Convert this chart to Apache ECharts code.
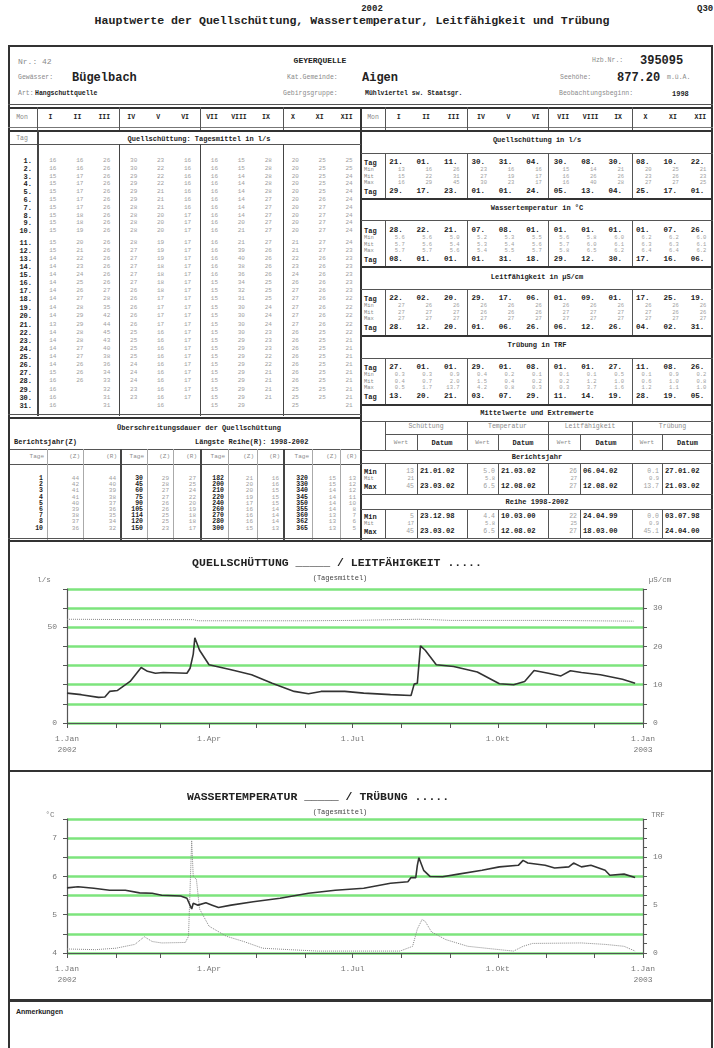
<!DOCTYPE html>
<html><head><meta charset="utf-8">
<script src="https://cdn.jsdelivr.net/npm/echarts@6/dist/echarts.min.js"></script>
<style>
body{margin:0;background:#fff;width:714px;height:1048px;overflow:hidden;position:relative;font-family:"Liberation Mono","DejaVu Sans Mono",monospace;color:#222}
.t{position:absolute;white-space:nowrap;line-height:1}
.ln{position:absolute}
</style></head><body>
<div id="page"></div>
<div id="chart" style="position:absolute;left:0;top:540px;width:714px;height:460px"></div>
<script>
// ---------------- DATA ----------------
const monthsRoman = ["I","II","III","IV","V","VI","VII","VIII","IX","X","XI","XII"];
// Quellschüttung daily means (l/s), table text
const dailyQJan = "16 16 15 15 15 15 15 15 15 15 15 15 14 14 14 14 14 14 14 14 13 14 14 14 14 14 15 16 16 16 16";
const dailyQFeb = "16 16 17 17 17 17 17 18 18 19 20 21 22 23 24 25 26 27 28 29 29 28 28 27 27 26 26 26";
const dailyQMar = "26 26 26 26 26 26 26 26 26 26 26 26 26 26 26 26 27 28 35 42 44 45 43 40 38 36 34 33 32 31 31";
const dailyQApr = "30 30 29 29 29 29 28 28 28 28 28 27 27 27 27 27 26 26 26 26 26 25 25 25 25 24 24 24 23 23";
const dailyQMay = "23 22 22 22 21 21 21 20 20 20 19 19 19 18 18 18 18 17 17 17 17 16 16 16 16 16 16 16 16 16 16";
const dailyQJun = "16 16 16 16 16 16 16 17 17 17 17 17 17 17 17 17 17 17 17 17 17 17 17 17 17 17 17 17 17 17";
const dailyQJul = "16 16 16 16 16 16 16 16 16 16 16 16 16 16 16 15 15 15 15 15 15 15 15 15 15 15 15 15 15 15 15";
const dailyQAug = "15 15 14 14 14 14 14 14 20 21 21 39 40 38 36 34 32 31 30 30 30 30 29 29 29 29 29 29 29 29 29";
const dailyQSep = "28 28 28 28 28 27 27 27 27 27 27 26 26 26 26 25 25 25 24 24 24 23 23 23 22 22 21 21 21 21";
const dailyQOct = "20 20 20 20 20 20 20 20 20 20 21 21 22 23 24 26 27 27 27 27 27 26 26 26 26 26 26 26 25 25 25";
const dailyQNov = "25 25 25 25 25 26 27 27 27 27 27 27 26 26 26 26 26 26 26 26 26 25 25 25 25 25 25 25 25 25";
const dailyQDec = "25 25 24 24 24 24 24 24 24 24 24 23 23 23 23 23 23 22 22 22 22 22 21 21 21 21 21 21 21 21 21";
const dailyQ = [dailyQJan,dailyQFeb,dailyQMar,dailyQApr,dailyQMay,dailyQJun,dailyQJul,dailyQAug,dailyQSep,dailyQOct,dailyQNov,dailyQDec];

const qMinDay = ["21.","01.","11.","30.","31.","04.","30.","08.","30.","08.","10.","22."];
const qMin = ["13","16","26","23","16","16","15","14","21","20","25","21"];
const qMit = ["15","22","31","27","19","17","16","26","26","23","26","23"];
const qMax = ["16","29","45","30","23","17","16","40","28","27","27","25"];
const qMaxDay = ["29.","17.","23.","01.","01.","24.","05.","13.","04.","25.","17.","01."];
const tMinDay = ["28.","22.","21.","07.","08.","01.","01.","01.","01.","01.","07.","26."];
const tMin = ["5.6","5.6","5.0","5.2","5.3","5.5","5.6","5.8","6.0","6.2","6.2","6.0"];
const tMit = ["5.7","5.6","5.4","5.3","5.4","5.6","5.7","6.0","6.1","6.3","6.3","6.1"];
const tMax = ["5.7","5.7","5.6","5.4","5.5","5.7","5.8","6.5","6.2","6.4","6.4","6.2"];
const tMaxDay = ["08.","01.","01.","01.","31.","18.","29.","12.","30.","17.","16.","06."];
const lMinDay = ["22.","02.","20.","29.","17.","06.","01.","09.","01.","17.","25.","19."];
const lMin = ["27","26","26","26","26","26","26","26","26","26","26","26"];
const lMit = ["27","27","27","26","26","26","27","27","27","27","26","26"];
const lMax = ["27","27","27","27","27","27","27","27","27","27","27","27"];
const lMaxDay = ["28.","12.","20.","01.","06.","26.","06.","12.","26.","04.","02.","31."];
const trMinDay = ["27.","01.","01.","29.","01.","08.","01.","01.","27.","11.","08.","26."];
const trMin = ["0.3","0.3","0.9","0.4","0.2","0.1","0.1","0.1","0.5","0.1","0.9","0.2"];
const trMit = ["0.4","0.7","2.0","1.5","0.4","0.2","0.2","1.2","1.0","0.6","1.0","0.8"];
const trMax = ["0.5","1.7","13.7","4.2","0.8","0.3","0.3","3.7","1.6","1.2","1.1","1.0"];
const trMaxDay = ["13.","20.","21.","03.","07.","29.","11.","14.","19.","28.","19.","05."];

const ueTage = [[1,2,3,4,5,6,7,8,10],[30,45,60,75,90,105,114,120,150],[182,200,210,220,240,260,270,280,300],[320,330,340,345,350,355,360,362,365]];
const ueZ = [[44,42,41,41,40,39,38,37,36],[29,28,27,27,26,26,25,25,23],[21,20,20,19,17,16,16,16,15],[15,15,14,14,14,14,13,13,13]];
const ueR = [[44,40,39,38,37,36,35,34,32],[27,25,24,22,20,19,18,18,17],[16,16,15,15,15,14,14,14,13],[13,12,12,11,10,8,7,6,5]];

const extremeGroups = ["Schüttung","Temperatur","Leitfähigkeit","Trübung"];
const berichtWert = [["13","21","45"],["5.0","5.8","6.5"],["26","27","27"],["0.1","0.9","13.7"]];
const berichtDatum = [["21.01.02","","23.03.02"],["21.03.02","","12.08.02"],["06.04.02","","12.08.02"],["27.01.02","","21.03.02"]];
const reiheWert = [["5","17","45"],["4.4","5.8","6.5"],["22","25","27"],["0.0","0.9","45.1"]];
const reiheDatum = [["23.12.98","","23.03.02"],["10.03.00","","12.08.02"],["24.04.99","","18.03.00"],["03.07.98","","24.04.00"]];

// chart series: [date, value]
const dischargeData = [["2002-01-01",15.6],["2002-01-10",14.8],["2002-01-21",13.4],["2002-01-25",13.6],["2002-01-28",16.5],["2002-02-02",17.0],["2002-02-10",21.7],["2002-02-17",29.0],["2002-02-21",27.0],["2002-02-26",26.0],["2002-03-03",26.4],["2002-03-18",26.0],["2002-03-20",28.6],["2002-03-22",36.0],["2002-03-23",44.5],["2002-03-26",38.0],["2002-04-01",30.4],["2002-04-15",27.8],["2002-04-28",25.2],["2002-05-11",20.8],["2002-05-25",16.5],["2002-06-03",15.3],["2002-06-11",16.5],["2002-06-26",16.5],["2002-07-08",15.6],["2002-07-25",14.8],["2002-08-07",14.4],["2002-08-09",20.3],["2002-08-11",20.8],["2002-08-13",40.3],["2002-08-16",38.0],["2002-08-23",30.4],["2002-09-03",29.5],["2002-09-18",26.6],["2002-10-02",20.5],["2002-10-11",20.0],["2002-10-18",21.7],["2002-10-24",27.4],["2002-11-02",26.0],["2002-11-10",24.6],["2002-11-16",27.3],["2002-11-23",26.4],["2002-12-05",25.2],["2002-12-19",22.9],["2002-12-27",20.8]];
const conductivityData = [["2002-01-01",27.1],["2002-02-15",27.0],["2002-03-22",27.0],["2002-03-25",26.7],["2002-06-01",26.7],["2002-07-01",26.8],["2002-08-12",27.1],["2002-08-20",27.0],["2002-09-01",26.8],["2002-11-01",26.8],["2002-12-26",26.6]];
const temperatureData = [["2002-01-01",5.70],["2002-01-08",5.73],["2002-01-18",5.69],["2002-01-28",5.64],["2002-02-07",5.64],["2002-02-16",5.57],["2002-02-24",5.56],["2002-03-02",5.51],["2002-03-14",5.49],["2002-03-18",5.43],["2002-03-21",5.15],["2002-03-22",5.30],["2002-03-25",5.25],["2002-03-30",5.31],["2002-04-03",5.25],["2002-04-07",5.19],["2002-04-15",5.25],["2002-04-29",5.34],["2002-05-16",5.43],["2002-06-03",5.56],["2002-06-20",5.64],["2002-07-08",5.69],["2002-07-25",5.82],["2002-08-05",5.86],["2002-08-07",5.97],["2002-08-10",5.97],["2002-08-11",6.29],["2002-08-12",6.49],["2002-08-15",6.16],["2002-08-19",6.00],["2002-08-27",5.99],["2002-09-06",6.06],["2002-09-21",6.16],["2002-10-02",6.25],["2002-10-14",6.29],["2002-10-17",6.42],["2002-10-20",6.35],["2002-10-31",6.29],["2002-11-06",6.22],["2002-11-15",6.25],["2002-11-18",6.35],["2002-11-23",6.25],["2002-11-29",6.29],["2002-12-08",6.16],["2002-12-11",6.03],["2002-12-20",6.06],["2002-12-27",5.97]];
const turbidityData = [["2002-01-01",0.42],["2002-01-19",0.35],["2002-02-01",0.5],["2002-02-13",0.9],["2002-02-19",1.7],["2002-02-24",1.2],["2002-03-02",1.05],["2002-03-17",1.1],["2002-03-19",1.75],["2002-03-21",11.75],["2002-03-22",8.0],["2002-03-24",7.7],["2002-03-26",4.6],["2002-04-01",2.8],["2002-04-12",1.75],["2002-04-23",1.2],["2002-05-05",0.5],["2002-05-22",0.35],["2002-06-09",0.2],["2002-07-31",0.2],["2002-08-08",0.7],["2002-08-11",2.5],["2002-08-14",3.5],["2002-08-16",3.3],["2002-08-20",2.2],["2002-08-29",1.4],["2002-09-12",0.7],["2002-10-02",0.35],["2002-10-11",0.2],["2002-10-17",0.7],["2002-10-23",1.0],["2002-11-23",1.05],["2002-12-08",0.9],["2002-12-20",0.7],["2002-12-27",0.2]];

const monthTickDates = ["2002-01-01","2002-02-01","2002-03-01","2002-04-01","2002-05-01","2002-06-01","2002-07-01","2002-08-01","2002-09-01","2002-10-01","2002-11-01","2002-12-01","2003-01-01"];
const labelTickDates = ["2002-01-01","2002-04-01","2002-07-01","2002-10-01","2003-01-01"];
const labelTickTexts = ["1.Jan\n2002","1.Apr","1.Jul","1.Okt","1.Jan\n2003"];

// ---------------- PAGE (table) ----------------
const page = document.getElementById('page');
function T(x,y,s,o){o=o||{};const d=document.createElement('div');d.className='t';d.textContent=s;
  d.style.left=x+'px';d.style.top=y+'px';d.style.fontSize=(o.size||7)+'px';
  d.style.fontWeight=o.bold?'bold':'normal';d.style.color=o.color||(o.bold?'#222':'#8a8a8a');
  if(o.font)d.style.fontFamily=o.font;
  const tx=o.align==='c'?'-50%':(o.align==='r'?'-100%':'0');d.style.transform='translate('+tx+',-50%)';
  page.appendChild(d);}
function H(x1,x2,y,t,c){const d=document.createElement('div');d.className='ln';d.style.left=x1+'px';d.style.top=y+'px';d.style.width=(x2-x1)+'px';d.style.height=(t||1)+'px';d.style.background=c||'#555';page.appendChild(d);}
function V(x,y1,y2,t,c){const d=document.createElement('div');d.className='ln';d.style.left=x+'px';d.style.top=y1+'px';d.style.height=(y2-y1)+'px';d.style.width=(t||1)+'px';d.style.background=c||'#555';page.appendChild(d);}

// header
T(372,9,"2002",{bold:true,size:9,align:'c'});
T(352,21,"Hauptwerte der Quellschüttung, Wassertemperatur, Leitfähigkeit und Trübung",{bold:true,size:11.6,align:'c'});
T(697,9,"Q30",{bold:true,size:9});
// outer frame
H(8,713,45,2,'#333');V(8,45,1048,2,'#333');V(711,45,1048,2,'#333');
// info block
T(18,62,"Nr.: 42",{size:8});
T(320,61,"GEYERQUELLE",{bold:true,size:8,align:'c'});
T(592,61,"Hzb.Nr.:",{size:6.5});T(640,61,"395095",{bold:true,size:12});
T(18,78,"Gewässer:",{size:6.5});T(72,78,"Bügelbach",{bold:true,size:12});
T(287,78,"Kat.Gemeinde:",{size:6.5});T(362,78,"Aigen",{bold:true,size:12});
T(560,78,"Seehöhe:",{size:6.5});T(617,78,"877.20",{bold:true,size:12});T(667,78,"m.ü.A.",{size:6.5});
T(18,94,"Art:",{size:6.5});T(35,94,"Hangschuttquelle",{bold:true,size:6.5});
T(283,94,"Gebirgsgruppe:",{size:6.5});T(365,94,"Mühlviertel sw. Staatsgr.",{bold:true,size:6.5});
T(559,94,"Beobachtungsbeginn:",{size:6.5});T(672,94,"1998",{bold:true,size:7});
H(8,713,104,1,'#555');H(8,713,107,2,'#333');

// month header rows
const LX0=37, LW=26.93, RX0=385, RW=27.42;
const lc=m=>LX0+(m+0.5)*LW, rc=m=>RX0+(m+0.5)*RW;
T(22,118,"Mon",{size:6.5,align:'c'});T(373,118,"Mon",{size:6.5,align:'c'});
monthsRoman.forEach((r,m)=>{T(lc(m),118,r,{bold:true,size:6.5,align:'c'});T(rc(m),118,r,{bold:true,size:6.5,align:'c'});});
H(8,713,127,1,'#777');H(8,713,130,2,'#333');
V(37,107,130);[119,200,283].forEach(x=>V(x,107,130));
V(385,107,130);[467,548,632].forEach(x=>V(x,107,130));
V(360,107,540,2,'#333');

// left daily table
T(22,139,"Tag",{size:6.5,align:'c'});
T(199,139,"Quellschüttung: Tagesmittel in l/s",{bold:true,size:7,align:'c'});
H(10,361,144,1);
V(37,130,416,2,'#444');[119,200,283].forEach(x=>V(x,144,416,1,'#444'));
const rowY=d=>d<10?161+d*7.8:(d<20?243+(d-10)*8.07:325+(d-20)*8.07);
for(let d=0;d<31;d++)T(32,rowY(d),(d+1)+".",{bold:true,size:7,align:'r'});
dailyQ.forEach((s,m)=>{s.split(' ').forEach((v,d)=>T(lc(m)+6,rowY(d),v,{size:6,align:'r',color:'#a0a0a0'}));});
H(8,361,414,1,'#555');H(8,361,417,2,'#333');

// Überschreitungsdauer
T(199,428,"Überschreitungsdauer der Quellschüttung",{bold:true,size:7,align:'c'});
T(14,442,"Berichtsjahr(Z)",{bold:true,size:7});
T(195,442,"Längste Reihe(R): 1998-2002",{bold:true,size:7});
H(10,361,449,1);H(10,361,464,1);
const ueG=[[10,47,83,120],[120,147,173,200],[200,228,257,283],[283,312,340,360]];
ueG.forEach((g,i)=>{
  if(i>0)V(g[0],449,540,2,'#444');
  V(g[1],449,540,1,'#aaa');V(g[2],449,540,1,'#aaa');
  T(g[1]-3,457,"Tage",{size:6,align:'r'});T(g[2]-3,457,"(Z)",{size:6,align:'r'});T(g[3]-3,457,"(R)",{size:6,align:'r'});
  for(let r=0;r<9;r++){const y=479+r*6.2;
    T(g[1]-4,y,String(ueTage[i][r]),{bold:true,size:6.5,align:'r'});
    T(g[2]-4,y,String(ueZ[i][r]),{size:6,align:'r',color:'#a0a0a0'});
    T(g[3]-4,y,String(ueR[i][r]),{size:6,align:'r',color:'#a0a0a0'});}
});

// right monthly blocks
const blocks=[
 {title:"Quellschüttung in l/s",ty:140,top:153,y0:163,bot:198,rows:[qMinDay,qMin,qMit,qMax,qMaxDay]},
 {title:"Wassertemperatur in °C",ty:208,top:220,y0:231,bot:266,rows:[tMinDay,tMin,tMit,tMax,tMaxDay]},
 {title:"Leitfähigkeit in µS/cm",ty:277,top:289,y0:299,bot:335,rows:[lMinDay,lMin,lMit,lMax,lMaxDay]},
 {title:"Trübung in TRF",ty:345,top:358,y0:368,bot:404,rows:[trMinDay,trMin,trMit,trMax,trMaxDay]}];
const rowOff=[0,7,13.5,20,29];
const rowLab=["Tag","Min","Mit","Max","Tag"];
blocks.forEach(b=>{
  T(537,b.ty,b.title,{bold:true,size:7,align:'c'});
  H(361,713,b.top,1);
  H(361,713,b.bot,2,'#333');
  [385,467,548,632].forEach(x=>V(x,b.top,b.bot,1,'#555'));
  rowOff.forEach((o,k)=>{
    const tag=(k===0||k===4);
    T(364,b.y0+o,rowLab[k],{bold:tag,size:tag?7:5.5});
    b.rows[k].forEach((v,m)=>{
      if(tag)T(rc(m)+4,b.y0+o,v,{bold:true,size:7.5,align:'r'});
      else T(rc(m)+6,b.y0+o,v,{size:5.5,align:'r',color:'#a0a0a0'});
    });
  });
});

// Mittelwerte und Extremwerte
T(537,413,"Mittelwerte und Extremwerte",{bold:true,size:7,align:'c'});
H(361,713,421,1);H(385,713,434,1);H(361,713,450,1);H(361,713,463,1);H(361,713,494,1);H(361,713,509,1);
const eg=[[385,417,467],[467,498,548],[548,580,632],[632,662,713]];
eg.forEach((g,i)=>{
  T((g[0]+g[2])/2,427,extremeGroups[i],{size:6.5,align:'c'});
  T((g[0]+g[1])/2,443,"Wert",{size:6,align:'c'});
  T((g[1]+g[2])/2,443,"Datum",{bold:true,size:7,align:'c'});
  V(g[0],421,450,1);V(g[1],434,450,1);
  V(g[0],463,494,1);V(g[1],463,494,1);V(g[0],509,538,1);V(g[1],509,538,1);
});
V(385,421,450,1);
T(537,457,"Berichtsjahr",{bold:true,size:7,align:'c'});
T(537,502,"Reihe 1998-2002",{bold:true,size:7,align:'c'});
const exRows=[["Min",0],["Mit",7],["Max",15]];
[[472,berichtWert,berichtDatum],[517,reiheWert,reiheDatum]].forEach(([y0,W,D])=>{
  exRows.forEach(([lab,o],k)=>{
    T(364,y0+o,lab,{bold:k!==1,size:k===1?5.5:7});
    eg.forEach((g,i)=>{
      T(g[1]-3,y0+o,W[i][k],{size:k===1?5.5:6.5,align:'r',color:'#a0a0a0'});
      if(D[i][k])T(g[1]+3,y0+o,D[i][k],{bold:true,size:7.2});
    });
  });
});
H(8,713,538,1,'#555');H(8,713,540,2,'#333');

// chart section frames
H(8,713,770,2,'#333');H(8,713,999,3,'#333');
T(16,1011,"Anmerkungen",{bold:true,size:7,font:"'Liberation Sans',sans-serif"});

// ---------------- CHARTS ----------------
const ts=s=>{const p=s.split('-').map(Number);return Date.UTC(p[0],p[1]-1,p[2]);};
const toXY=arr=>arr.map(p=>[ts(p[0]),p[1]]);
const monthTicks=monthTickDates.map(ts);
const labelTicks=labelTickDates.map(ts);
const GREEN='#7de47d';
function xAx(gi){return {type:'value',gridIndex:gi,min:ts("2002-01-01"),max:ts("2003-01-01"),
  axisLine:{show:true,lineStyle:{color:'#555',width:1.2}},
  axisTick:{show:true,length:5,customValues:monthTicks,lineStyle:{color:'#555'}},
  axisLabel:{show:true,customValues:labelTicks,margin:10,color:'#777',fontSize:8,lineHeight:11,fontFamily:'Liberation Mono',
    formatter:v=>{const i=labelTicks.indexOf(v);return i>=0?labelTickTexts[i]:'';}},
  splitLine:{show:false}};}
function yAx(gi,pos,min,max,iv,labs,split){return {type:'value',gridIndex:gi,position:pos,min:min,max:max,interval:iv,
  axisLine:{show:true,lineStyle:{color:'#555',width:1.2}},
  axisTick:{show:true,length:4,lineStyle:{color:'#555'}},
  axisLabel:{color:'#777',fontSize:8,margin:10,fontFamily:'Liberation Mono',formatter:v=>labs.indexOf(v)>=0?String(v):''},
  splitLine:{show:split,lineStyle:{color:GREEN,width:2.5}}};}
const chart=echarts.init(document.getElementById('chart'),null,{renderer:'canvas'});
const txt=(x,y,s,o)=>Object.assign({type:'text',x:x,y:y,style:Object.assign({text:s,fontFamily:'Liberation Mono',fontSize:7,fill:'#777',align:'center',verticalAlign:'middle'},o||{})});
chart.setOption({
  animation:false,
  grid:[{left:67,right:71,top:49,height:134},{left:67,right:71,top:279,height:134}],
  xAxis:[xAx(0),xAx(1)],
  yAxis:[yAx(0,'left',0,70,10,[0,50],true),yAx(0,'right',0,35,5,[0,10,20,30],false),
         yAx(1,'left',4,7.5,0.5,[4,5,6,7],true),yAx(1,'right',0,14,1,[0,5,10],false)],
  series:[
    {type:'line',name:'Quellschüttung',xAxisIndex:0,yAxisIndex:0,data:toXY(dischargeData),showSymbol:false,lineStyle:{color:'#333',width:1.6},z:5},
    {type:'line',name:'Leitfähigkeit',xAxisIndex:0,yAxisIndex:1,data:toXY(conductivityData),showSymbol:false,lineStyle:{color:'#888',width:1,type:'dotted'},z:4},
    {type:'line',name:'Wassertemperatur',xAxisIndex:1,yAxisIndex:2,data:toXY(temperatureData),showSymbol:false,lineStyle:{color:'#333',width:1.6},z:5},
    {type:'line',name:'Trübung',xAxisIndex:1,yAxisIndex:3,data:toXY(turbidityData),showSymbol:false,lineStyle:{color:'#888',width:1,type:'dotted'},z:4}
  ],
  graphic:[
    txt(337,23,"QUELLSCHÜTTUNG _____ / LEITFÄHIGKEIT .....",{fontSize:11.5,fontWeight:'bold',fill:'#222'}),
    txt(340,38,"(Tagesmittel)",{fontSize:7,fill:'#444'}),
    txt(44,40,"l/s",{fontSize:7.5}),
    txt(660,40,"µS/cm",{fontSize:7.5}),
    txt(318,257,"WASSERTEMPERATUR _____ / TRÜBUNG .....",{fontSize:11.5,fontWeight:'bold',fill:'#222'}),
    txt(340,272,"(Tagesmittel)",{fontSize:7,fill:'#444'}),
    txt(50,275,"°C",{fontSize:7.5}),
    txt(658,275,"TRF",{fontSize:7.5})
  ]
});
</script>
</body></html>
